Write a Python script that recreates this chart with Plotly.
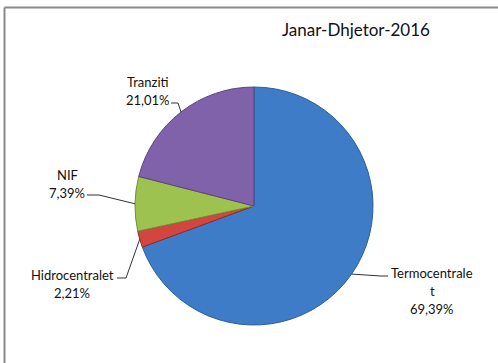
import math
import plotly.graph_objects as go

# Electricity supply shares, January-December 2016
categories = ["Termocentralet", "Hidrocentralet", "NIF", "Tranziti"]
shares = [69.39, 2.21, 7.39, 21.01]
title_text = "Janar-Dhjetor-2016"

slice_colors = ["#3E7CC8", "#D2463F", "#9DC24F", "#7F62AA"]
edge_colors = ["#2B5C98", "#8F2B27", "#6F8F33", "#5A437F"]

# Canvas and pie geometry (pixels)
W, H = 498, 363
CX, CY, R = 254, 206, 119
LINE_STEP = 18


def px(x):
    return x / W


def py(y):
    return 1 - y / H


# Label blocks: centre x, first line y, leader stub start and elbow
label_layout = {
    "Termocentralet": dict(x=432, y=273, start=(388, 276), elbow=(381, 276)),
    "Hidrocentralet": dict(x=72, y=275, start=(117, 278), elbow=(126, 278)),
    "NIF": dict(x=67, y=175, start=(87, 195), elbow=(99, 195)),
    "Tranziti": dict(x=148, y=82, start=(171, 103), elbow=(178, 103)),
}
wrapped_names = {"Termocentralet": ["Termocentrale", "t"]}

fig = go.Figure(
    go.Pie(
        labels=categories,
        values=shares,
        sort=False,
        direction="clockwise",
        rotation=0,
        textinfo="none",
        hoverinfo="label+percent",
        marker=dict(colors=slice_colors, line=dict(color=edge_colors, width=1)),
        domain=dict(x=[px(CX - R), px(CX + R)], y=[py(CY + R), py(CY - R)]),
        showlegend=False,
    )
)

annotations = [
    dict(
        text=title_text, x=px(356), y=py(29), xref="paper", yref="paper",
        xanchor="center", yanchor="middle", showarrow=False,
        font=dict(family="Lato", size=17, color="#111111"),
    )
]
shapes = []

total = sum(shares)
cum = 0.0
for name, val in zip(categories, shares):
    mid = (cum + val / 2) / total * 2 * math.pi
    cum += val
    ex = CX + R * math.sin(mid)
    ey = CY - R * math.cos(mid)

    lay = label_layout[name]
    pct = f"{val:.2f}%".replace(".", ",")
    lines = wrapped_names.get(name, [name]) + [pct]
    for i, line in enumerate(lines):
        annotations.append(dict(
            text=line, x=px(lay["x"]), y=py(lay["y"] + i * LINE_STEP),
            xref="paper", yref="paper", xanchor="center", yanchor="middle",
            showarrow=False, font=dict(family="Lato", size=13, color="#111111"),
        ))

    (sx, sy), (bx, by) = lay["start"], lay["elbow"]
    path = (f"M {px(sx)} {py(sy)} L {px(bx)} {py(by)} L {px(ex)} {py(ey)}")
    shapes.append(dict(type="path", path=path, xref="paper", yref="paper",
                       line=dict(color="#333333", width=1)))

# Chart frame (top and left edges)
shapes.append(dict(type="line", xref="paper", yref="paper",
                   x0=px(4.5), y0=py(7.5), x1=px(498), y1=py(7.5),
                   line=dict(color="#8a8a8a", width=2)))
shapes.append(dict(type="line", xref="paper", yref="paper",
                   x0=px(4.5), y0=py(7.5), x1=px(4.5), y1=py(363),
                   line=dict(color="#8a8a8a", width=2)))

fig.update_layout(
    width=W, height=H,
    margin=dict(l=0, r=0, t=0, b=0),
    paper_bgcolor="white", plot_bgcolor="white",
    annotations=annotations, shapes=shapes,
)

fig.write_html("out.html")
